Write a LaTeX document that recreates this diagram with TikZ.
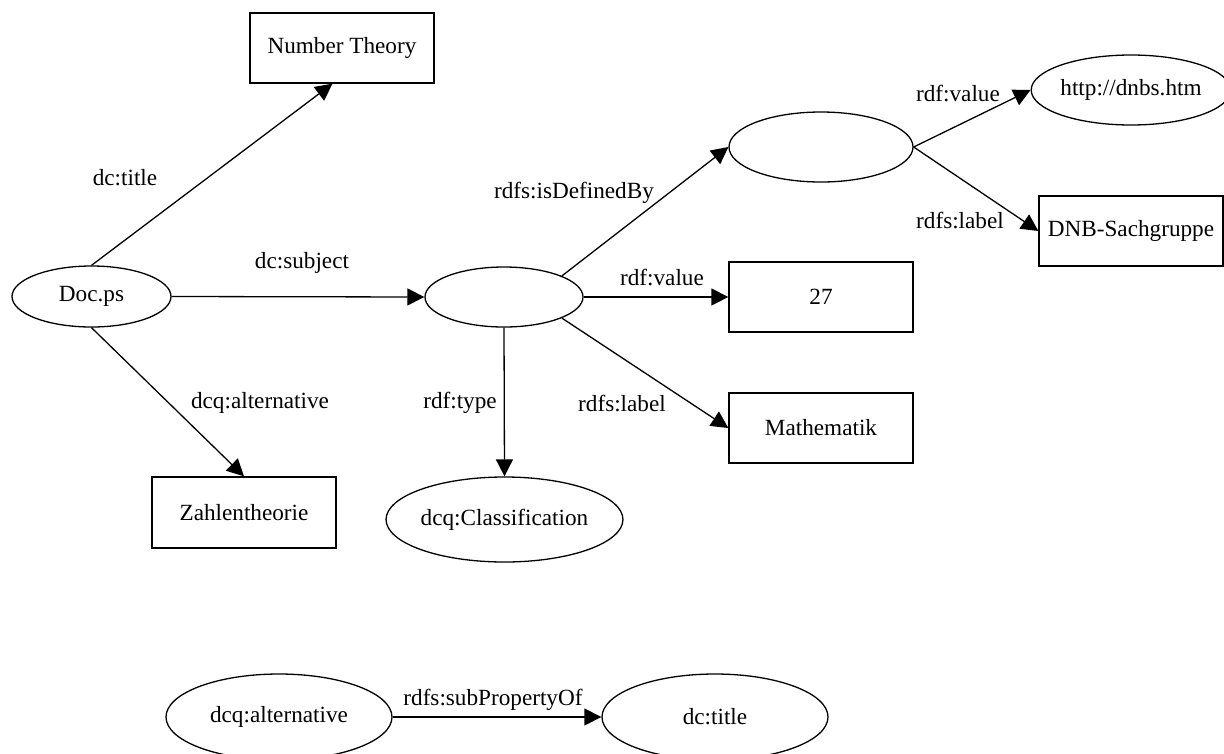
\documentclass[tikz,border=0pt]{standalone}
\usepackage{fontspec}
\setmainfont{Liberation Serif}
\usetikzlibrary{arrows.meta,shapes.geometric}
\begin{document}
\begin{tikzpicture}[x=1pt,y=-1pt,
  every node/.style={font=\fontsize{23.2}{28}\selectfont, inner sep=0pt},
  ell/.style={draw, ellipse, line width=1.3pt, minimum width=#1},
  box/.style={draw, rectangle, line width=1.3pt, minimum width=184pt, minimum height=70pt},
  lbl/.style={fill=none},
  edge/.style={line width=1.3pt, -{Triangle[length=17pt,width=17pt]}}
]
\useasboundingbox (0,0) rectangle (1224,753);
% nodes
\node[box] (nt) at (342,48) {Number Theory};
\node[ell=159pt, minimum height=61pt] (doc) at (91.5,296.5) {Doc.ps};
\node[ell=158pt, minimum height=60pt] (subj) at (504,297) {};
\node[ell=184pt, minimum height=70pt] (blank) at (821,147) {};
\node[ell=184pt, minimum height=70pt] (http) at (1131,90) {http://dnbs.htm};
\node[box] (dnb) at (1131,231) {DNB-Sachgruppe};
\node[box] (n27) at (821,297) {27};
\node[box] (math) at (821,428) {Mathematik};
\node[box, minimum height=71pt] (zahl) at (244,512.5) {Zahlentheorie};
\node[ell=225pt, minimum height=85pt] (class) at (504.5,519.5) {dcq:Classification};
\node[ell=226pt, minimum height=86pt] (alt) at (279,717) {dcq:alternative};
\node[ell=226pt, minimum height=86pt] (dct) at (715,717) {dc:title};
% edges
\draw[edge] (doc.north) -- (nt.255.6);
\draw[edge] (doc.east) -- (subj.west);
\draw[edge] (doc.south) -- (zahl.north);
\draw[edge] (subj.20.9) -- (blank.west);
\draw[edge] (subj.east) -- (n27.west);
\draw[edge] (subj.-20.9) -- (math.west);
\draw[edge] (subj.south) -- (class.north);
\draw[edge] (blank.east) -- (http.west);
\draw[edge] (blank.east) -- (dnb.west);
\draw[edge] (alt.east) -- (dct.west);
% labels
\node[lbl] (l1) at (125,178) {dc:title};
\node[lbl] (l2) at (302,263) {dc:subject};
\node[lbl] (l3) at (260,403) {dcq:alternative};
\node[lbl] (l4) at (460,403) {rdf:type};
\node[lbl] (l5) at (622,403) {rdfs:label};
\node[lbl] (l6) at (662,277) {rdf:value};
\node[lbl] (l7) at (574,193) {rdfs:isDefinedBy};
\node[lbl] (l8) at (958,93) {rdf:value};
\node[lbl] (l9) at (960,220) {rdfs:label};
\node[lbl] (l10) at (493,700) {rdfs:subPropertyOf};
\end{tikzpicture}
\end{document}
